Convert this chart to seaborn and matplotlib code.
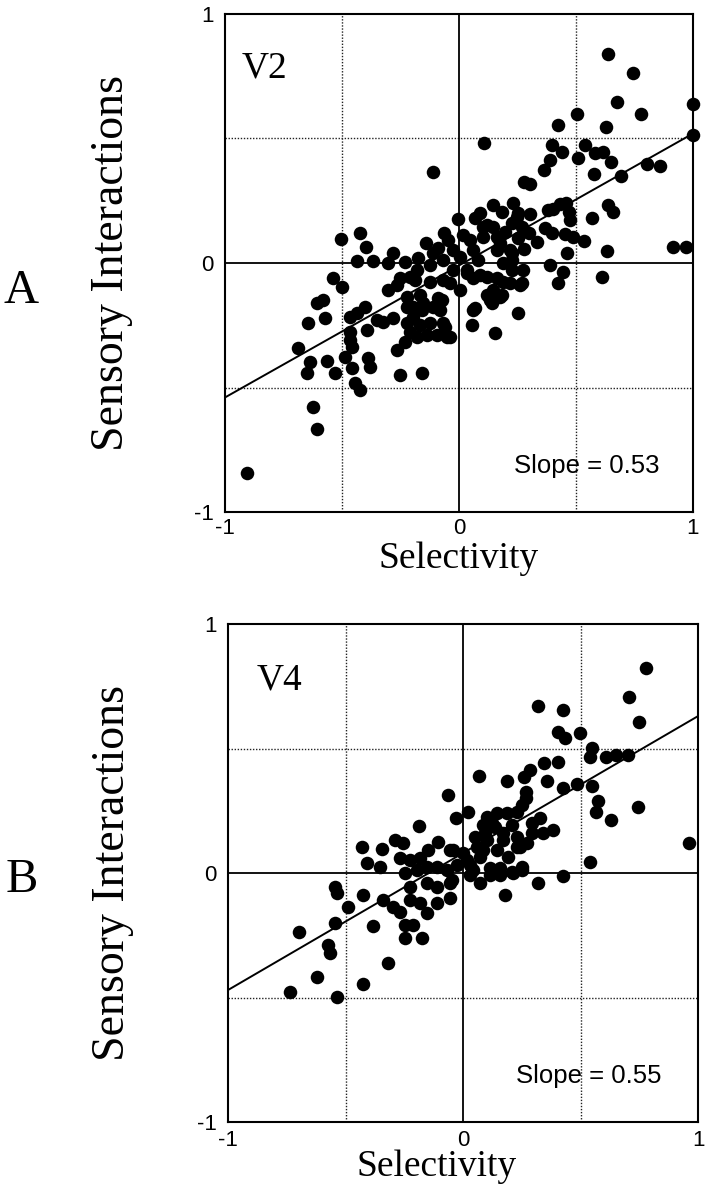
import numpy as np
import pandas as pd
import matplotlib
matplotlib.use("Agg")
import matplotlib.pyplot as plt
import seaborn as sns

# ---------------- data ----------------
v2_x = [0.637, 0.744, 0.675, 0.778, 1.0, 1.0, 0.504, 0.423, 0.628, 0.107,
        0.397, 0.44, 0.538, 0.581, 0.615, 0.65, 0.509, 0.389, 0.363, 0.577,
        0.803, 0.859, 0.692, 0.278, 0.303, 0.145, 0.231, 0.184, 0.252, 0.303,
        0.402, 0.432, 0.457, 0.47, 0.474, 0.637, 0.658, 0.568, -0.004, 0.068,
        0.103, 0.145, 0.226, 0.269, 0.197, 0.368, 0.397, 0.453, 0.487, 0.534,
        0.333, 0.278, 0.632, 0.462, 0.915, 0.97, 0.162, 0.226, 0.38, 0.248,
        -0.111, -0.504, -0.423, -0.397, -0.282, -0.141, -0.064,
        -0.436, -0.368, -0.303, -0.231, -0.175, -0.111, -0.047, 0.12, 0.162, 0.175,
        0.218, 0.103, 0.047, 0.017, -0.026, 0.004, 0.06, 0.081, 0.034, -0.026,
        -0.068, -0.124, -0.179, -0.188, -0.252, -0.209, -0.303, -0.265, -0.167, -0.222,
        -0.124, -0.068, -0.038, 0.004, 0.034, 0.06, 0.09, 0.12, 0.162, 0.188,
        0.218, 0.226, 0.188, 0.226, 0.261, 0.274, 0.145, 0.175, 0.12, 0.141,
        0.06, 0.056, 0.154, 0.252, -0.073, -0.111, -0.081, -0.158, -0.197, -0.222,
        -0.197, -0.222, -0.167, -0.124, -0.068, -0.051, -0.179, -0.137, -0.209, -0.231,
        -0.265, -0.466, -0.436, -0.402, -0.393, -0.35, -0.325, -0.282, -0.466, -0.466,
        -0.457, -0.389, -0.38, -0.487, -0.538, -0.5, -0.252, -0.158,
        -0.607, -0.581, -0.645, -0.573, -0.688, -0.637, -0.65, -0.564, -0.53, -0.457,
        -0.444, -0.423, -0.624, -0.607, -0.906,
        -0.154, -0.094, -0.06, -0.09,
        0.389, 0.444, 0.423, 0.611, 0.068, 0.132, 0.184, 0.269, -0.038,
        0.3, 0.25, -0.09, 0.09]
v2_y = [0.839, 0.763, 0.647, 0.598, 0.64, 0.514, 0.598, 0.554, 0.546, 0.482,
        0.474, 0.446, 0.474, 0.442, 0.446, 0.406, 0.422, 0.414, 0.373, 0.357,
        0.398, 0.39, 0.349, 0.325, 0.317, 0.233, 0.241, 0.205, 0.201, 0.197,
        0.217, 0.237, 0.241, 0.205, 0.173, 0.233, 0.205, 0.181, 0.177, 0.181,
        0.145, 0.145, 0.161, 0.145, 0.124, 0.141, 0.12, 0.116, 0.104, 0.088,
        0.084, 0.056, 0.048, 0.04, 0.064, 0.064, 0.052, 0.04, 0.213, 0.185,
        0.365, 0.096, 0.12, 0.064, 0.04, 0.08, 0.12,
        0.008, 0.008, 0.0, 0.004, 0.02, 0.04, 0.092, 0.153, 0.104, 0.08,
        0.052, 0.104, 0.092, 0.112, 0.052, 0.024, 0.052, 0.012, -0.028, -0.028,
        0.012, -0.008, -0.028, -0.068, -0.06, -0.056, -0.108, -0.088, -0.128, -0.136,
        -0.076, -0.068, -0.08, -0.108, -0.04, -0.06, -0.048, -0.056, -0.06, -0.076,
        -0.08, -0.028, 0.0, 0.012, -0.088, -0.028, -0.108, -0.136, -0.128, -0.161,
        -0.189, -0.249, -0.281, -0.201, -0.149, -0.177, -0.189, -0.189, -0.177, -0.177,
        -0.217, -0.241, -0.249, -0.241, -0.241, -0.297, -0.297, -0.289, -0.277, -0.317,
        -0.349, -0.217, -0.201, -0.177, -0.269, -0.229, -0.237, -0.221, -0.277, -0.309,
        -0.337, -0.381, -0.418, -0.377, -0.06, -0.096, -0.45, -0.44,
        -0.161, -0.149, -0.241, -0.221, -0.341, -0.398, -0.442, -0.394, -0.442, -0.422,
        -0.482, -0.51, -0.578, -0.667, -0.843,
        -0.161, -0.289, -0.257, -0.141,
        -0.008, -0.036, -0.08, -0.056, -0.181, -0.149, -0.128, -0.08, -0.297,
        0.12, 0.1, 0.06, 0.2]

v4_x = [0.779, 0.706, 0.749, 0.319, 0.426, 0.404, 0.434, 0.498, 0.549, 0.54,
        0.608, 0.651, 0.702, 0.345, 0.404, 0.285, 0.26, 0.068, 0.187, 0.357,
        0.268, 0.268, 0.426, 0.485, 0.549, 0.574, 0.566, 0.63, 0.745, 0.962,
        0.383, 0.328, 0.294, 0.54, -0.064, -0.03, 0.021, -0.187, -0.43, -0.345,
        -0.289, -0.255, -0.409, -0.353, -0.268, -0.183, -0.149, -0.106, -0.055, 0.102,
        0.145, 0.187, 0.23, 0.251, 0.051, 0.094, 0.123, 0.17, 0.23, 0.272,
        0.294, 0.085, 0.145, 0.191, 0.243, -0.043, 0.0, 0.03, 0.115, 0.157,
        0.251, 0.085, 0.136, 0.209, 0.34, 0.102, 0.17, 0.06, 0.23, 0.072,
        -0.226, 0.017, -0.247, -0.196, -0.153, -0.111, -0.068, -0.026, 0.043, 0.072,
        0.115, 0.157, 0.209, 0.251, 0.319, 0.179, 0.426, 0.03, -0.047, -0.055,
        -0.226, -0.153, -0.111, -0.055, -0.34, -0.298, -0.268, -0.226, -0.183, -0.153,
        -0.111, -0.426, -0.489, -0.545, -0.545, -0.536, -0.383, -0.247, -0.213, -0.247,
        -0.174, -0.319, -0.698, -0.574, -0.566, -0.621, -0.736, -0.536, -0.426, 0.213]
v4_y = [0.823, 0.707, 0.606, 0.671, 0.655, 0.566, 0.542, 0.562, 0.502, 0.466,
        0.466, 0.474, 0.474, 0.442, 0.446, 0.414, 0.386, 0.39, 0.369, 0.369,
        0.325, 0.301, 0.341, 0.357, 0.349, 0.289, 0.245, 0.213, 0.265, 0.12,
        0.173, 0.221, 0.201, 0.044, 0.313, 0.221, 0.245, 0.189, 0.104, 0.096,
        0.133, 0.12, 0.04, 0.024, 0.06, 0.06, 0.092, 0.124, 0.092, 0.225,
        0.241, 0.241, 0.245, 0.273, 0.145, 0.161, 0.201, 0.161, 0.145, 0.12,
        0.161, 0.092, 0.092, 0.064, 0.104, 0.092, 0.08, 0.032, 0.02, 0.02,
        0.024, 0.193, 0.185, 0.193, 0.161, 0.133, 0.133, 0.104, 0.104, 0.064,
        0.052, 0.052, 0.0, 0.012, 0.024, 0.024, 0.012, 0.032, 0.012, -0.04,
        -0.008, -0.008, 0.004, 0.012, -0.04, -0.088, -0.012, -0.008, -0.028, -0.1,
        -0.056, -0.04, -0.056, -0.04, -0.108, -0.137, -0.157, -0.108, -0.12, -0.161,
        -0.12, -0.088, -0.137, -0.201, -0.056, -0.08, -0.213, -0.209, -0.209, -0.261,
        -0.261, -0.361, -0.237, -0.289, -0.321, -0.418, -0.478, -0.498, -0.446, 0.0]

v2_fit = (0.53, -0.01)   # slope, intercept
v4_fit = (0.55, 0.08)
ticks = [-1, 0, 1]
tick_labels = ["-1", "0", "1"]
panel_letters = ["A", "B"]
area_names = ["V2", "V4"]
slope_texts = ["Slope = 0.53", "Slope = 0.55"]
xlabel = "Selectivity"
ylabel = "Sensory Interactions"

# ---------------- style ----------------
sns.set_theme(style="white")
plt.rcParams["font.family"] = ["Liberation Sans", "DejaVu Sans"]
SERIF = ["Liberation Serif", "DejaVu Serif"]
SANS = ["Liberation Sans", "DejaVu Sans"]

W, H = 706, 1200
fig = plt.figure(figsize=(W / 100, H / 100), dpi=100)
fig.patch.set_facecolor("white")

axA = fig.add_axes([225 / W, 1 - 512 / H, 468 / W, 498 / H])
axB = fig.add_axes([228 / W, 1 - 1122 / H, 470 / W, 498 / H])


def draw(ax, xs, ys, fit, area, slope_txt, xlab_x, xlab_y, area_pos, slope_pos, xpad):
    ax.set_facecolor("white")
    for v in (-0.5, 0.5):
        ax.axvline(v, color="#222222", lw=1.0, ls=(0, (1, 1.2)), zorder=1)
        ax.axhline(v, color="#222222", lw=1.0, ls=(0, (1, 1.2)), zorder=1)
    ax.axvline(0, color="black", lw=1.3, zorder=1)
    ax.axhline(0, color="black", lw=1.3, zorder=1)

    df = pd.DataFrame({"x": xs, "y": ys})
    sns.scatterplot(data=df, x="x", y="y", color="black", s=95, linewidth=0,
                    ax=ax, zorder=3, clip_on=False, legend=False)

    lx = np.array([-1.0, 1.0])
    ly = fit[0] * lx + fit[1]
    sns.lineplot(x=lx, y=ly, color="black", lw=1.4, ax=ax, zorder=4)

    ax.set_xlim(-1, 1)
    ax.set_ylim(-1, 1)
    ax.set_xticks(ticks)
    ax.set_yticks(ticks)
    ax.set_xticklabels(tick_labels, fontsize=16, family=SANS)
    ax.set_yticklabels(tick_labels, fontsize=16, family=SANS)
    ax.tick_params(axis="y", length=0, pad=8, colors="black")
    ax.tick_params(axis="x", length=0, pad=xpad, colors="black")
    for sp in ax.spines.values():
        sp.set_color("black")
        sp.set_linewidth(1.5)
        sp.set_visible(True)

    ax.set_xlabel("")
    ax.set_ylabel("")
    ax.text(xlab_x, xlab_y, xlabel, transform=ax.transAxes, ha="center",
            va="center", fontsize=27, family=SERIF, color="black")
    ax.text(area_pos[0], area_pos[1], area, ha="left", va="center",
            fontsize=27, family=SERIF, color="black")
    ax.text(slope_pos[0], slope_pos[1], slope_txt, ha="center", va="center",
            fontsize=18.5, family=SANS, color="black")


draw(axA, v2_x, v2_y, v2_fit, area_names[0], slope_texts[0],
     0.5, (512 - 559) / 498, (-0.93, 0.783), (0.547, -0.815), 4)
draw(axB, v4_x, v4_y, v4_fit, area_names[1], slope_texts[1],
     (437 - 228) / 470, (1122 - 1167) / 498, (-0.877, 0.775), (0.536, -0.815), 6)

# y labels
fig.text(112 / W, 1 - 263 / H, ylabel, rotation=90, ha="center", va="center",
         fontsize=33, family=SERIF, color="black")
fig.text(113 / W, 1 - 873 / H, ylabel, rotation=90, ha="center", va="center",
         fontsize=33, family=SERIF, color="black")

# panel letters
fig.text(21 / W, 1 - 291 / H, panel_letters[0], ha="center", va="center",
         fontsize=35, family=SERIF, color="black")
fig.text(22 / W, 1 - 880 / H, panel_letters[1], ha="center", va="center",
         fontsize=35, family=SERIF, color="black")

fig.savefig("out.png", dpi=100, facecolor="white")
